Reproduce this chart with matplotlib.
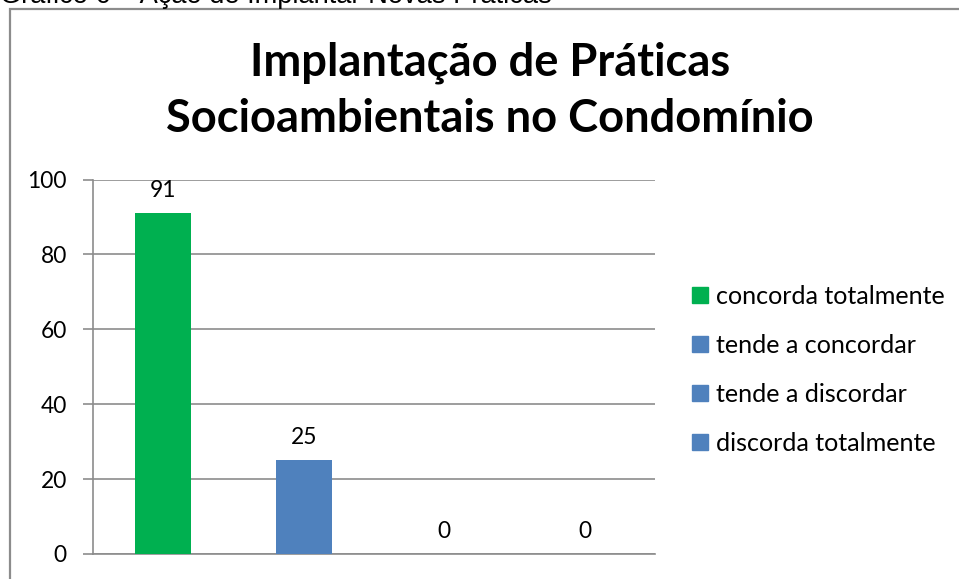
import matplotlib
matplotlib.use("Agg")
import matplotlib.pyplot as plt
from matplotlib.patches import Rectangle
from matplotlib.textpath import TextPath
from matplotlib.font_manager import FontProperties

categories = ["concorda totalmente", "tende a concordar", "tende a discordar", "discorda totalmente"]
values = [91, 25, 0, 0]
colors = ["#00B050", "#4F81BD", "#4F81BD", "#4F81BD"]
title_lines = ["Implantação de Práticas", "Socioambientais no Condomínio"]
caption = "Gráfico 6 – Ação de Implantar Novas Práticas"
yticks = [0, 20, 40, 60, 80, 100]

W, H = 959, 579
DPI = 100
PT = 72.0 / DPI  # points per pixel


def fit_size(text, family, weight, target_px):
    fp = FontProperties(family=family, weight=weight, size=10)
    w = TextPath((0, 0), text, prop=fp).get_extents().width
    return 10 * target_px / (w * DPI / 72.0)


FONT = "Lato"
fig = plt.figure(figsize=(W / DPI, H / DPI), dpi=DPI)
fig.patch.set_facecolor("white")

# caption (cut at the top edge, as in the source)
cap_size = fit_size(caption, "Liberation Sans", "normal", 548)
fig.text(0.0, 1 - 3 / H, caption, fontsize=cap_size, family="Liberation Sans",
         va="baseline", ha="left", color="#000000")

# chart frame
fig.patches.append(Rectangle((10 / W, -0.1), 1.2, (H - 9) / H + 0.1, transform=fig.transFigure,
                             fill=False, edgecolor="#8c8c8c", linewidth=1.6))

title_size = fit_size(title_lines[0], FONT, "bold", 475)
fig.text(490 / W, 1 - 63 / H, title_lines[0], fontsize=title_size, fontweight="bold", family=FONT,
         ha="center", va="center")
fig.text(490 / W, 1 - 119 / H, title_lines[1], fontsize=title_size, fontweight="bold", family=FONT,
         ha="center", va="center")

tick_size = fit_size("100", FONT, "normal", 37)
ax = fig.add_axes([93 / W, (H - 554) / H, 562 / W, 374.5 / H])
x = list(range(len(categories)))
ax.bar(x, values, width=0.4, color=colors, zorder=3)
ax.set_xlim(-0.5, len(categories) - 0.5)
ax.set_ylim(0, 100)
ax.set_yticks(yticks)
ax.set_yticklabels([str(t) for t in yticks], fontsize=tick_size, family=FONT)
ax.set_xticks([])
ax.tick_params(axis="y", length=10 * PT, width=1.2, color="#8c8c8c", pad=16 * PT)
ax.grid(axis="y", color="#8c8c8c", linewidth=1.2, zorder=0)
for s in ["top", "right"]:
    ax.spines[s].set_visible(False)
for s in ["left", "bottom"]:
    ax.spines[s].set_color("#8c8c8c")
    ax.spines[s].set_linewidth(1.2)

for xi, v in zip(x, values):
    ax.annotate(str(v), (xi, v), xytext=(0, 9), textcoords="offset points",
                ha="center", va="bottom", fontsize=tick_size, family=FONT)

leg_size = fit_size(categories[0], FONT, "normal", 228)
handles = [Rectangle((0, 0), 1, 1, color=c) for c in colors]
fig.legend(handles, categories, loc="upper left", bbox_to_anchor=(692 / W, 1 - 285 / H),
           frameon=False, prop={"family": FONT, "size": leg_size},
           handlelength=0.62, handleheight=0.62, handletextpad=0.35, labelspacing=1.03,
           borderaxespad=0, borderpad=0)

fig.savefig("out.png", dpi=DPI, facecolor="white")
